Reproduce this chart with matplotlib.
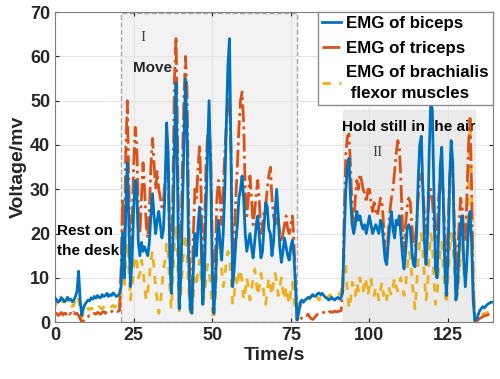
import numpy as np
import matplotlib.pyplot as plt
from matplotlib.patches import Rectangle

# time axis, 0.5 s steps
t = np.arange(0, 139.5, 0.5)

biceps = [
    5.5, 5.0, 4.5, 4.8, 5.5, 5.2, 4.6, 5.0, 5.6, 5.0, 5.2, 4.6, 5.0, 5.8, 7.0, 11.5, 5.0, 1.5, 3.0, 4.0,
    4.5, 5.0, 4.8, 5.5, 5.2, 5.8, 5.4, 6.0, 5.6, 5.5, 6.2, 5.8, 6.0, 6.5, 5.8, 6.2, 6.0, 6.6, 6.2, 5.8,
    6.0, 6.4, 8, 20, 10, 25, 36, 22, 8, 14, 25, 32, 30, 18, 15, 18, 16, 17, 16, 15,
    18, 24, 29, 24, 20, 23, 25, 22, 19, 21, 30, 45, 38, 15, 6.5, 18, 40, 54, 30, 3,
    10, 25, 40, 55, 42, 15, 3, 2, 12, 20, 15, 22, 26, 18, 4, 10, 25, 38, 50, 35,
    12, 2, 8, 18, 23, 18, 14, 20, 30, 45, 58, 64, 35, 8, 12, 18, 22, 28, 30, 33,
    28, 20, 16, 18, 20, 17, 14.5, 18, 22, 24, 19, 14.5, 16, 22, 27, 26, 21, 20, 15, 18,
    25, 30, 24, 17, 13.5, 16, 19, 17, 15, 14, 17, 18.5, 15, 8, 0.5, 2, 4.5, 5, 4.5, 5,
    5.2, 5.6, 5.4, 5.8, 6.2, 5.8, 6.0, 6.4, 6.6, 6.2, 6.5, 6.0, 5.6, 5.4, 5.0, 5.2, 5.6, 5.2, 5.0, 5.4,
    5.6, 5.2, 5.5, 7, 20, 30, 35, 37, 28, 22, 20, 22, 25, 23, 24, 22, 21, 22, 20, 22,
    24, 22, 20, 21, 22, 21, 20, 23, 22, 18, 14, 13, 18, 22, 25, 21, 19, 23, 22, 24,
    20, 15, 12, 16, 21, 22, 21, 16, 13, 12.5, 20, 32, 40, 42, 30, 18, 13, 20, 38, 50,
    48, 30, 12, 10, 20, 35, 39.5, 28, 12, 6, 15, 32, 41, 36, 18, 5, 8, 16, 22, 24,
    14, 8, 14, 22, 25, 18, 5, 0.5, 0.5, 1.5, 2.5, 3, 3.5, 3.2, 3.6, 4, 4.2, 4.5, 4.5,
]

triceps = [
    1.8, 2.0, 1.5, 1.8, 2.2, 1.6, 2.0, 1.8, 2.4, 1.8, 2.0, 1.6, 2.2, 1.8, 2.0, 1.5, 0.8, 0.0, 0.3, 0.8,
    1.0, 1.2, 1.5, 1.4, 1.8, 2.0, 1.8, 2.2, 2.0, 1.8, 2.2, 2.4, 2.0, 2.3, 2.5, 2.2, 2.4, 2.6, 2.3, 2.5,
    2.4, 2.6, 12, 28, 15, 38, 50, 30, 10, 22, 35, 44, 40, 25, 20, 28, 36, 30, 22, 19,
    25, 35, 41.5, 36, 30, 34, 30, 28, 26, 27.5, 32, 38, 34, 18, 8, 30, 55, 64.5, 40, 4,
    14, 35, 50, 60, 52, 25, 5, 4, 20, 30, 28, 35, 40, 28, 8, 18, 35, 42, 44, 38,
    18, 5, 15, 28, 32, 28, 22, 30, 38, 45, 50, 51, 38, 12, 18, 28, 35, 44, 50, 52,
    45, 30, 24, 28, 33, 28, 22, 25, 29, 32, 27, 20, 22, 25, 26, 30, 33, 35, 28, 24,
    22, 25, 23, 20, 18, 20, 22, 24, 21, 20, 22, 24, 18, 8, 0.3, 0.2, 0.5, 1.0, 1.4, 1.6,
    1.5, 1.8, 1.2, 0.8, 0.6, 1.0, 1.4, 1.8, 2.0, 1.9, 2.1, 2.2, 2.0, 2.3, 2.2, 2.4, 2.2, 2.3, 2.5, 2.3,
    2.4, 2.5, 2.6, 8, 25, 38, 42, 42.5, 35, 25, 22, 28, 32, 30, 33.5, 32, 30, 29, 27, 30,
    30, 27, 25, 27, 25, 24, 26, 28, 27, 22, 16, 15, 20, 25, 28, 30, 34, 38, 41, 40,
    32, 22, 16, 22, 26, 28, 27, 22, 18, 17, 22, 28, 32, 33.5, 30, 24, 20, 24, 28, 30,
    28, 22, 18, 20, 28, 32, 33.5, 28, 18, 12, 20, 32, 38, 34, 22, 12, 15, 22, 28, 26,
    20, 18, 28, 40, 46, 30, 8, 0.3, 0.2, 0.5, 0.8, 1.0, 1.2, 1.4, 1.5, 1.6, 1.8, 1.9, 2.0,
]

brachialis = [
    3.5, 4.5, 5.5, 6.5, 5.5, 4.5, 5.0, 4.0, 5.5, 4.5, 5.0, 3.5, 4.0, 5.0, 6.0, 5.0, 3.0, 1.0, 2.0, 3.0,
    3.5, 3.0, 2.8, 3.2, 3.0, 3.4, 2.8, 3.0, 3.5, 3.2, 3.0, 3.4, 3.2, 3.6, 3.4, 3.0, 3.5, 3.8, 3.4, 3.6,
    3.5, 4.0, 6, 12, 8, 14, 18, 12, 5, 8, 12, 15, 14, 10, 11, 14, 12, 8, 5, 7,
    10, 14, 16, 12, 8, 5, 2, 4, 8, 12, 14, 18, 15, 8, 3, 10, 18, 22, 14, 2,
    6, 12, 18, 20, 15, 8, 2, 1, 6, 10, 8, 12, 14, 10, 4, 6, 10, 13, 12, 8,
    3, 0.5, 5, 14, 20, 18, 12, 8, 10, 14, 16, 15, 10, 4, 6, 10, 8, 11, 12, 9,
    5, 7, 10, 8, 5, 7, 10, 12, 9, 6, 8, 11, 9, 6, 4, 7, 10, 8, 6, 9,
    11, 9, 6, 8, 10, 7, 5, 8, 6, 4, 7, 9, 5, 2, 0.5, 1.5, 3.5, 4.5, 5.0, 4.5,
    5.0, 5.5, 5.2, 6.0, 6.5, 5.8, 6.2, 5.5, 5.0, 5.6, 5.2, 5.8, 6.0, 5.5, 5.8, 6.2, 5.6, 5.8, 6.0, 6.2,
    6.0, 6.4, 7, 10, 15, 12, 7, 3, 5, 9, 8, 6, 9, 7, 10, 8, 7, 10, 9, 6,
    8, 10, 7, 6, 8, 7, 5, 7, 9, 6, 7, 5, 8, 7, 6, 8, 10, 8, 7, 9,
    10, 8, 6, 8, 12, 16, 15, 10, 6, 3, 8, 14, 18, 20, 16, 10, 5, 8, 15, 20,
    18, 10, 4, 6, 12, 16, 18, 12, 7, 4, 10, 16, 20, 18, 12, 5, 6, 10, 15, 18,
    12, 8, 15, 30, 46, 30, 8, 0.3, 0.2, 0.8, 1.2, 1.5, 1.8, 2.0, 1.8, 2.2, 2.0, 2.4, 2.5,
]

plt.rcParams['font.family'] = ['Liberation Sans', 'DejaVu Sans']

fig = plt.figure(figsize=(5, 3.79), dpi=100)
ax = fig.add_axes([0.11, 0.15, 0.876, 0.818])

# shaded phases
ax.add_patch(Rectangle((21, 0), 56, 69.7, facecolor='#f2f2f2', edgecolor='#a6a6a6',
                       linestyle='--', linewidth=1, zorder=0.5))
ax.add_patch(Rectangle((91.6, 0), 42, 48, facecolor='#ebebeb', edgecolor='#d0d0d0',
                       linestyle=':', linewidth=0.8, zorder=0.5))

ax.text(0.6, 18.3, 'Rest on\nthe desk', fontsize=11, fontweight='bold', ha='left', va='center',
        linespacing=1.55, zorder=1)
ax.text(24.8, 57.3, 'Move', fontsize=11, fontweight='bold', ha='left', va='center', color='#262626', zorder=1)
ax.text(28, 64.3, 'I', fontsize=11, family='Liberation Serif', color='#404040', ha='center', va='center', zorder=1)
ax.text(91.3, 44, 'Hold still in the air', fontsize=11, fontweight='bold', ha='left', va='center', zorder=1)
ax.text(102.7, 38.4, 'II', fontsize=11, family='Liberation Serif', color='#404040', ha='center', va='center', zorder=1)

ax.plot(t, biceps, color='#0072BD', lw=2.0, label='EMG of biceps', zorder=3)
ax.plot(t, triceps, color='#D95319', lw=2.0, ls='-.', label='EMG of triceps', zorder=2.5)
ax.plot(t, brachialis, color='#EDB120', lw=2.0, ls='--', dashes=(3, 3),
        label='EMG of brachialis\n flexor muscles', zorder=2)

ax.set_xlim(0, 139.3)
ax.set_ylim(0, 70)
ax.set_xticks([0, 25, 50, 75, 100, 125])
ax.set_yticks(range(0, 71, 10))
ax.grid(True, color='#e3e3e3', linewidth=0.8, zorder=0)
ax.set_axisbelow(True)
ax.tick_params(direction='in', labelsize=13, colors='#262626', length=3)
ax.tick_params(axis='both', which='both', top=True, right=True)
for lbl in ax.get_xticklabels() + ax.get_yticklabels():
    lbl.set_fontweight('bold')
for sp in ax.spines.values():
    sp.set_color('#7f7f7f')

ax.set_xlabel('Time/s', fontsize=14, fontweight='bold', color='#262626', labelpad=2)
ax.set_ylabel('Voltage/mv', fontsize=14, fontweight='bold', color='#262626', labelpad=2)

leg = ax.legend(loc='upper right', handlelength=1.1, handletextpad=0.3,
                borderaxespad=0, borderpad=0.25, labelspacing=0.55, fancybox=False,
                framealpha=1, edgecolor='#8c8c8c', prop={'weight': 'bold', 'size': 12.2})
for txt in leg.get_texts():
    txt.set_linespacing(1.5)

fig.savefig('out.png', dpi=100)
